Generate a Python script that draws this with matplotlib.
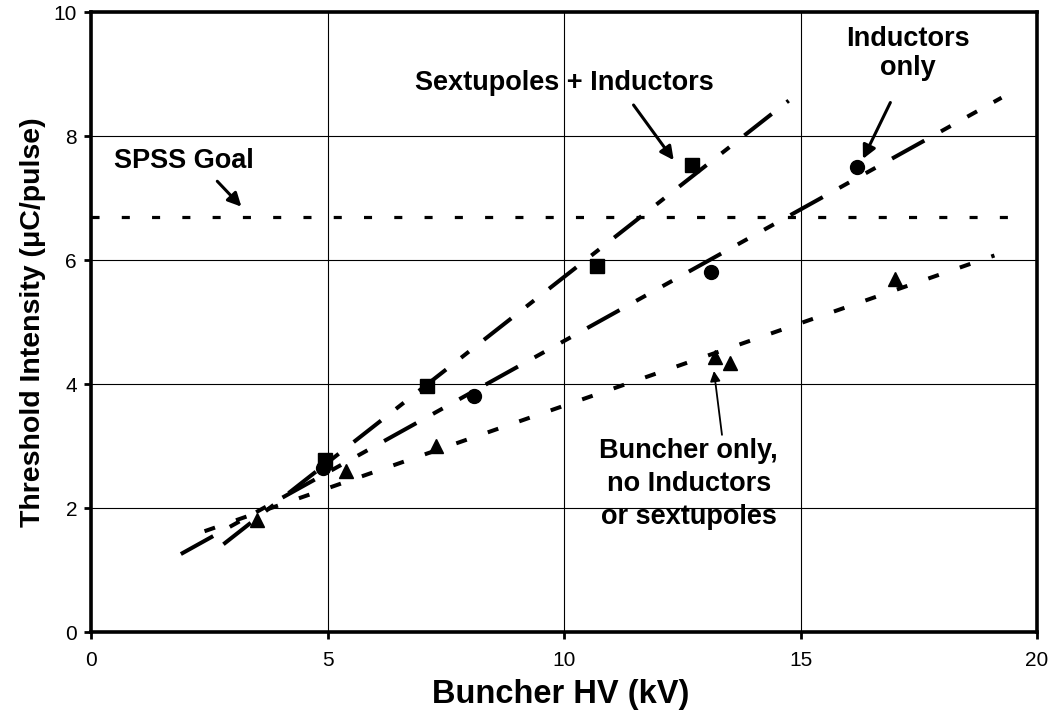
import numpy as np
import matplotlib
matplotlib.use("Agg")
import matplotlib.pyplot as plt

plt.rcParams['font.family'] = ['Liberation Sans', 'DejaVu Sans']
plt.rcParams['lines.scale_dashes'] = False

# ---- data ----
sext_x = [4.95, 7.1, 10.7, 12.7]
sext_y = [2.78, 3.97, 5.9, 7.53]
ind_x = [4.9, 8.1, 13.1, 16.2]
ind_y = [2.65, 3.8, 5.8, 7.5]
bun_x = [3.5, 5.4, 7.3, 13.2, 13.5, 17.0]
bun_y = [1.8, 2.6, 3.0, 4.43, 4.34, 5.7]

# extent of each linear trend line (x range)
sext_range = [2.8, 14.75]
ind_range = [1.9, 19.25]
bun_range = [2.4, 19.1]

goal_x = [0.0, 19.5]
goal_y = [6.7, 6.7]

x_ticks = [0, 5, 10, 15, 20]
y_ticks = [0, 2, 4, 6, 8, 10]

fig = plt.figure(figsize=(10.56, 7.21), dpi=100)
ax = fig.add_axes([91 / 1056, (721 - 632) / 721, 946 / 1056, 620 / 721])

ax.set_xlim(0, 20)
ax.set_ylim(0, 10)
ax.set_xticks(x_ticks)
ax.set_yticks(y_ticks)
ax.grid(True, color='black', lw=0.8)
ax.set_axisbelow(True)
for s in ax.spines.values():
    s.set_linewidth(2.6)
    s.set_color('black')
ax.tick_params(axis='both', direction='out', length=5, width=2, labelsize=15, color='black')
ax.tick_params(axis='x', pad=9)
ax.tick_params(axis='y', pad=5)


def trend(xs, ys, xr):
    k, b = np.polyfit(xs, ys, 1)
    xx = np.array(xr)
    return xx, k * xx + b


# SPSS goal
ax.plot(goal_x, goal_y, color='black', lw=2.3, dashes=(5.8, 16), zorder=3)

# trend lines
tx, ty = trend(sext_x, sext_y, sext_range)
ax.plot(tx, ty, color='black', lw=2.9, dashes=(25, 13.7, 7.2, 13.7), zorder=3)
tx, ty = trend(ind_x, ind_y, ind_range)
ax.plot(tx, ty, color='black', lw=2.9, dashes=(26.6, 13.7, 8, 13.7, 8, 13.7), zorder=3)
tx, ty = trend(bun_x, bun_y, bun_range)
ax.plot(tx, ty, color='black', lw=2.9, dashes=(8, 16), zorder=3)

# markers
ax.plot(sext_x, sext_y, 's', color='black', ms=10, lw=0, zorder=4)
ax.plot(ind_x, ind_y, 'o', color='black', ms=10, lw=0, zorder=4)
ax.plot(bun_x, bun_y, '^', color='black', ms=10, lw=0, zorder=4)

# annotations
tk = dict(fontsize=19.5, fontweight='bold', ha='center', va='center', zorder=5)
ax.text(1.97, 7.6, 'SPSS Goal', **tk)
ax.text(10.0, 8.85, 'Sextupoles + Inductors', **tk)
ax.text(17.28, 9.33, 'Inductors\nonly', linespacing=1.15, **tk)
ax.text(12.64, 2.39, 'Buncher only,\nno Inductors\nor sextupoles', linespacing=1.35, **tk)

ap = dict(arrowstyle='-|>', color='black', lw=2.2, mutation_scale=20, shrinkA=0, shrinkB=0)
ax.annotate('', xy=(3.18, 6.86), xytext=(2.67, 7.27), arrowprops=ap, zorder=5)
ax.annotate('', xy=(12.32, 7.61), xytext=(11.47, 8.5), arrowprops=ap, zorder=5)
ax.annotate('', xy=(16.32, 7.63), xytext=(16.9, 8.54), arrowprops=ap, zorder=5)
ap2 = dict(arrowstyle='-|>', color='black', lw=1.3, mutation_scale=15, shrinkA=0, shrinkB=0)
ax.annotate('', xy=(13.17, 4.21), xytext=(13.34, 3.18), arrowprops=ap2, zorder=5)

ax.set_xlabel('Buncher HV (kV)', fontsize=23.5, fontweight='bold')
ax.xaxis.set_label_coords(0.497, (632 - 694) / 620)
ax.xaxis.label.set_va('center')
ax.set_ylabel('Threshold Intensity (μC/pulse)', fontsize=20.5, fontweight='bold')
ax.yaxis.set_label_coords((33 - 91) / 946, 0.5)
ax.yaxis.label.set_va('center')

fig.savefig('out.png', dpi=100)
